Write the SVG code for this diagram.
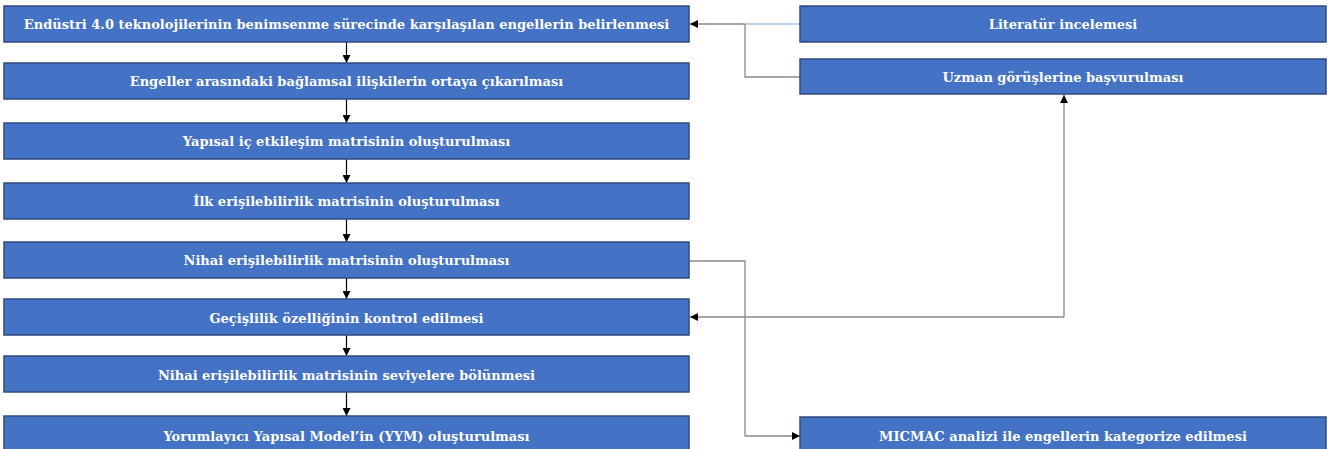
<svg xmlns="http://www.w3.org/2000/svg" width="1330" height="449" viewBox="0 0 1330 449">
<style>
.box{fill:#4472C4;stroke:#2F4A7F;stroke-width:1.5}
.t{font-family:"DejaVu Serif","Liberation Serif",serif;font-weight:bold;font-size:13px;fill:#fff;text-anchor:middle;dominant-baseline:central}
.c{fill:none;stroke:#8a8a8a;stroke-width:1.3}
.v{fill:none;stroke:#000;stroke-width:1.2}
</style>
<defs>
<marker id="ah" viewBox="0 0 10 10" refX="10" refY="5" markerWidth="10" markerHeight="8" markerUnits="userSpaceOnUse" orient="auto">
<path d="M0,0 L10,5 L0,10 z" fill="#000"/>
</marker>
</defs>
<g id="connectors">
<line class="v" x1="346.5" y1="42" x2="346.5" y2="63" marker-end="url(#ah)"/>
<line class="v" x1="346.5" y1="99" x2="346.5" y2="123" marker-end="url(#ah)"/>
<line class="v" x1="346.5" y1="159" x2="346.5" y2="183" marker-end="url(#ah)"/>
<line class="v" x1="346.5" y1="219" x2="346.5" y2="242" marker-end="url(#ah)"/>
<line class="v" x1="346.5" y1="278" x2="346.5" y2="299" marker-end="url(#ah)"/>
<line class="v" x1="346.5" y1="335" x2="346.5" y2="356" marker-end="url(#ah)"/>
<line class="v" x1="346.5" y1="392" x2="346.5" y2="416" marker-end="url(#ah)"/>
<line x1="800" y1="24" x2="745" y2="24" stroke="#a9bfe6" stroke-width="1.3"/>
<polyline class="c" points="745,24 690,24" marker-end="url(#ah)"/>
<polyline class="c" points="800,77 745,77 745,24"/>
<polyline class="c" points="689,261 745,261 745,436 800,436" marker-end="url(#ah)"/>
<polyline class="c" points="1064,317 1064,95" marker-end="url(#ah)"/>
<polyline class="c" points="1064,317 690,317" marker-end="url(#ah)"/>
</g>
<g id="n1"><rect class="box" x="4" y="6" width="685" height="36"/><text class="t" x="346.5" y="24">Endüstri 4.0 teknolojilerinin benimsenme sürecinde karşılaşılan engellerin belirlenmesi</text></g>
<g id="n2"><rect class="box" x="4" y="63" width="685" height="36"/><text class="t" x="346.5" y="81">Engeller arasındaki bağlamsal ilişkilerin ortaya çıkarılması</text></g>
<g id="n3"><rect class="box" x="4" y="123" width="685" height="36"/><text class="t" x="346.5" y="141">Yapısal iç etkileşim matrisinin oluşturulması</text></g>
<g id="n4"><rect class="box" x="4" y="183" width="685" height="36"/><text class="t" x="346.5" y="201">İlk erişilebilirlik matrisinin oluşturulması</text></g>
<g id="n5"><rect class="box" x="4" y="242" width="685" height="36"/><text class="t" x="346.5" y="260">Nihai erişilebilirlik matrisinin oluşturulması</text></g>
<g id="n6"><rect class="box" x="4" y="299" width="685" height="36"/><text class="t" x="346.5" y="318">Geçişlilik özelliğinin kontrol edilmesi</text></g>
<g id="n7"><rect class="box" x="4" y="356" width="685" height="36"/><text class="t" x="346.5" y="375">Nihai erişilebilirlik matrisinin seviyelere bölünmesi</text></g>
<g id="n8"><rect class="box" x="4" y="416" width="685" height="38"/><text class="t" x="346.5" y="436">Yorumlayıcı Yapısal Model’in (YYM) oluşturulması</text></g>
<g id="r1"><rect class="box" x="800" y="6" width="526" height="36"/><text class="t" x="1063" y="24">Literatür incelemesi</text></g>
<g id="r2"><rect class="box" x="800" y="59" width="526" height="35"/><text class="t" x="1063" y="77">Uzman görüşlerine başvurulması</text></g>
<g id="r3"><rect class="box" x="800" y="417" width="526" height="38"/><text class="t" x="1063" y="436">MICMAC analizi ile engellerin kategorize edilmesi</text></g>
</svg>
